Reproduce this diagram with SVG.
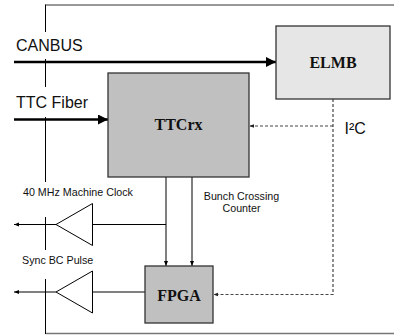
<svg xmlns="http://www.w3.org/2000/svg" width="394" height="335" viewBox="0 0 394 335">
<style>
.lbl{font-family:"Liberation Sans",Arial,sans-serif;fill:#111}
.big{font-size:16px}
.sm{font-size:10.7px}
.nt{font-family:"Liberation Serif","Times New Roman",serif;font-weight:bold;font-size:16px;fill:#111;text-anchor:middle}
.box{stroke:#333;stroke-width:1.3}
.ln{stroke:#000;stroke-width:1;fill:none}
.dash{stroke:#444;stroke-width:1.2;stroke-dasharray:3 2;fill:none}
.frame{stroke:#777;stroke-width:1.5;fill:none}
</style>
<defs>
<marker id="ab" viewBox="0 0 10 10" refX="10" refY="5" markerWidth="4" markerHeight="4" orient="auto" markerUnits="strokeWidth"><path d="M0,0 L10,5 L0,10 z" fill="#000"/></marker>
<marker id="as" viewBox="0 0 10 10" refX="10" refY="5" markerWidth="5" markerHeight="5" orient="auto" markerUnits="strokeWidth"><path d="M0,1 L10,5 L0,9 z" fill="#000"/></marker>
<marker id="ad" viewBox="0 0 10 10" refX="10" refY="5" markerWidth="4" markerHeight="4" orient="auto" markerUnits="strokeWidth"><path d="M0,1 L10,5 L0,9 z" fill="#222"/></marker>
</defs>
<g id="frame">
<path class="frame" d="M45.5,5 H394 M45.5,333.5 H394"/>
<path class="ln" d="M45.5,4.5 V32 M45.5,59 V87 M45.5,117 V182 M45.5,217 V250 M45.5,279 V334"/>
</g>
<g id="labels">
<text class="lbl big" x="16" y="51">CANBUS</text>
<text class="lbl big" x="16" y="108">TTC Fiber</text>
<text class="lbl big" x="344.5" y="133.5">I²C</text>
<text class="lbl sm" x="23" y="196">40 MHz Machine Clock</text>
<text class="lbl sm" x="22" y="264">Sync BC Pulse</text>
<text class="lbl sm" x="241.5" y="200" text-anchor="middle">Bunch Crossing</text>
<text class="lbl sm" x="241.5" y="211.5" text-anchor="middle">Counter</text>
</g>
<g id="connectors">
<line x1="14" y1="62" x2="276" y2="62" stroke="#000" stroke-width="2.5" marker-end="url(#ab)"/>
<line x1="14" y1="119.5" x2="108" y2="119.5" stroke="#000" stroke-width="2.5" marker-end="url(#ab)"/>
<line class="ln" x1="166" y1="177" x2="166" y2="266" marker-end="url(#as)"/>
<line class="ln" x1="192" y1="177" x2="192" y2="266" marker-end="url(#as)"/>
<path class="ln" d="M166,224.5 H92"/>
<line class="ln" x1="56" y1="224.5" x2="14" y2="224.5" marker-end="url(#as)"/>
<path class="ln" d="M145,292 H92"/>
<line class="ln" x1="56" y1="292" x2="14" y2="292" marker-end="url(#as)"/>
<path class="dash" d="M333,99 V294.5 H213.5" marker-end="url(#ad)"/>
<line class="dash" x1="333" y1="126" x2="249.5" y2="126" marker-end="url(#ad)"/>
</g>
<g id="buf1"><path class="ln" d="M92.5,203.5 V245.5 L56,224.5 Z" fill="#fff"/></g>
<g id="buf2"><path class="ln" d="M92.5,271 V313 L56,292 Z" fill="#fff"/></g>
<g id="ttcrx">
<rect class="box" x="108" y="73" width="141" height="104" fill="#c0c0c0"/>
<text class="nt" x="178.5" y="130">TTCrx</text>
</g>
<g id="elmb">
<rect class="box" x="276" y="26" width="114" height="73" fill="#e6e6e6"/>
<text class="nt" x="333" y="67.5">ELMB</text>
</g>
<g id="fpga">
<rect class="box" x="145" y="266" width="68" height="57" fill="#c0c0c0"/>
<text class="nt" x="179" y="300.5">FPGA</text>
</g>
</svg>
